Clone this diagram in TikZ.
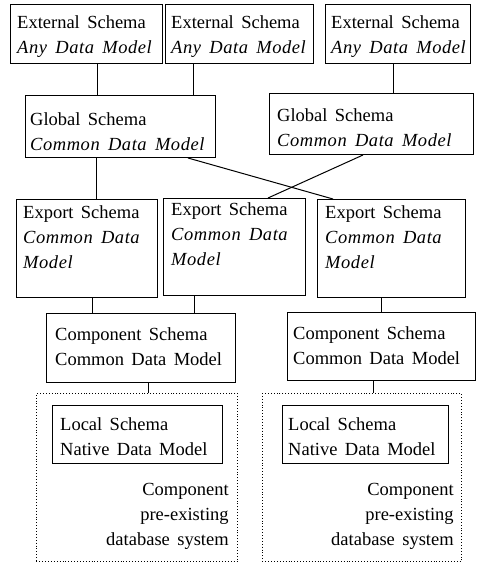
\documentclass[tikz,border=0pt]{standalone}
\usepackage{fontspec}
\setmainfont{Liberation Serif}[WordSpace=1.6, ItalicFeatures={LetterSpace=3}]
\begin{document}
\begin{tikzpicture}[x=1pt,y=1pt,
  schemabox/.style={draw, line width=1pt, rectangle, inner sep=0pt, anchor=north west},
  sysbox/.style={draw, line width=0.9pt, dotted, rectangle, inner sep=0pt, anchor=north west},
  txt/.style={inner sep=0pt, align=left, anchor=north west, font=\fontsize{18.5}{25}\selectfont},
  rtxt/.style={inner sep=0pt, align=right, anchor=north east, font=\fontsize{18.5}{25}\selectfont},
  link/.style={line width=1pt}]
\useasboundingbox (0,0) rectangle (478,-571);

% external schemas
\node[schemabox, minimum width=152pt, minimum height=59pt] (E1) at (10,-4) {};
\node[schemabox, minimum width=148pt, minimum height=59pt] (E2) at (165,-4) {};
\node[schemabox, minimum width=145pt, minimum height=59pt] (E3) at (325,-4) {};
\node[txt] (E1t) at ([shift={(7,-11)}]E1.north west) {External Schema\\\textit{Any Data Model}};
\node[txt] (E2t) at ([shift={(6,-11)}]E2.north west) {External Schema\\\textit{Any Data Model}};
\node[txt] (E3t) at ([shift={(6,-11)}]E3.north west) {External Schema\\\textit{Any Data Model}};

% global schemas
\node[schemabox, minimum width=190pt, minimum height=62pt] (G1) at (25,-95) {};
\node[schemabox, minimum width=204pt, minimum height=61pt] (G2) at (269,-93) {};
\node[txt] (G1t) at ([shift={(5,-17)}]G1.north west) {Global Schema\\\textit{Common Data Model}};
\node[txt] (G2t) at ([shift={(8,-15)}]G2.north west) {Global Schema\\\textit{Common Data Model}};

% export schemas
\node[schemabox, minimum width=141pt, minimum height=98pt] (X1) at (16,-199) {};
\node[schemabox, minimum width=142pt, minimum height=97pt] (X2) at (163,-198) {};
\node[schemabox, minimum width=148pt, minimum height=98pt] (X3) at (317,-199) {};
\node[txt] (X1t) at ([shift={(7,-6)}]X1.north west) {Export Schema\\\textit{Common Data}\\\textit{Model}};
\node[txt] (X2t) at ([shift={(8,-4)}]X2.north west) {Export Schema\\\textit{Common Data}\\\textit{Model}};
\node[txt] (X3t) at ([shift={(8,-6)}]X3.north west) {Export Schema\\\textit{Common Data}\\\textit{Model}};

% component schemas
\node[schemabox, minimum width=189pt, minimum height=69pt] (C1) at (46,-313) {};
\node[schemabox, minimum width=188pt, minimum height=68pt] (C2) at (287,-312) {};
\node[txt] (C1t) at ([shift={(9,-14)}]C1.north west) {Component Schema\\Common Data Model};
\node[txt] (C2t) at ([shift={(6,-14)}]C2.north west) {Component Schema\\Common Data Model};

% component database systems
\node[sysbox, minimum width=201pt, minimum height=168pt] (D1) at (36,-393) {};
\node[sysbox, minimum width=199pt, minimum height=168pt] (D2) at (262,-393) {};
\node[schemabox, minimum width=170pt, minimum height=58pt] (L1) at (52,-405) {};
\node[schemabox, minimum width=166pt, minimum height=58pt] (L2) at (282,-405) {};
\node[txt] (L1t) at ([shift={(8,-12)}]L1.north west) {Local Schema\\Native Data Model};
\node[txt] (L2t) at ([shift={(6,-12)}]L2.north west) {Local Schema\\Native Data Model};
\node[rtxt] (D1t) at ([shift={(-9,-90)}]D1.north east) {Component\\pre-existing\\database system};
\node[rtxt] (D2t) at ([shift={(-8,-90)}]D2.north east) {Component\\pre-existing\\database system};

% connector anchor points
\coordinate (e1b) at ([xshift=87pt]E1.south west);
\coordinate (e2b) at ([xshift=28pt]E2.south west);
\coordinate (e3b) at ([xshift=68pt]E3.south west);
\coordinate (g1b) at ([xshift=71pt]G1.south west);
\coordinate (g1x) at ([xshift=163pt]G1.south west);
\coordinate (g2x) at ([xshift=94pt]G2.south west);
\coordinate (x2t) at ([xshift=105pt]X2.north west);
\coordinate (x3t) at ([xshift=16pt]X3.north west);
\coordinate (x1b) at ([xshift=76pt]X1.south west);
\coordinate (x2b) at ([xshift=31pt]X2.south west);
\coordinate (x3b) at ([xshift=64pt]X3.south west);
\coordinate (c1b) at ([xshift=102pt]C1.south west);
\coordinate (c2b) at ([xshift=86pt]C2.south west);

% connectors
\draw[link] (e1b) -- (e1b |- G1.north);
\draw[link] (e2b) -- (e2b |- G1.north);
\draw[link] (e3b) -- (e3b |- G2.north);
\draw[link] (g1b) -- (g1b |- X1.north);
\draw[link] (g1x) -- (x3t);
\draw[link] (g2x) -- (x2t);
\draw[link] (x1b) -- (x1b |- C1.north);
\draw[link] (x2b) -- (x2b |- C1.north);
\draw[link] (x3b) -- (x3b |- C2.north);
\draw[link] (c1b) -- (c1b |- D1.north);
\draw[link] (c2b) -- (c2b |- D2.north);
\end{tikzpicture}
\end{document}
